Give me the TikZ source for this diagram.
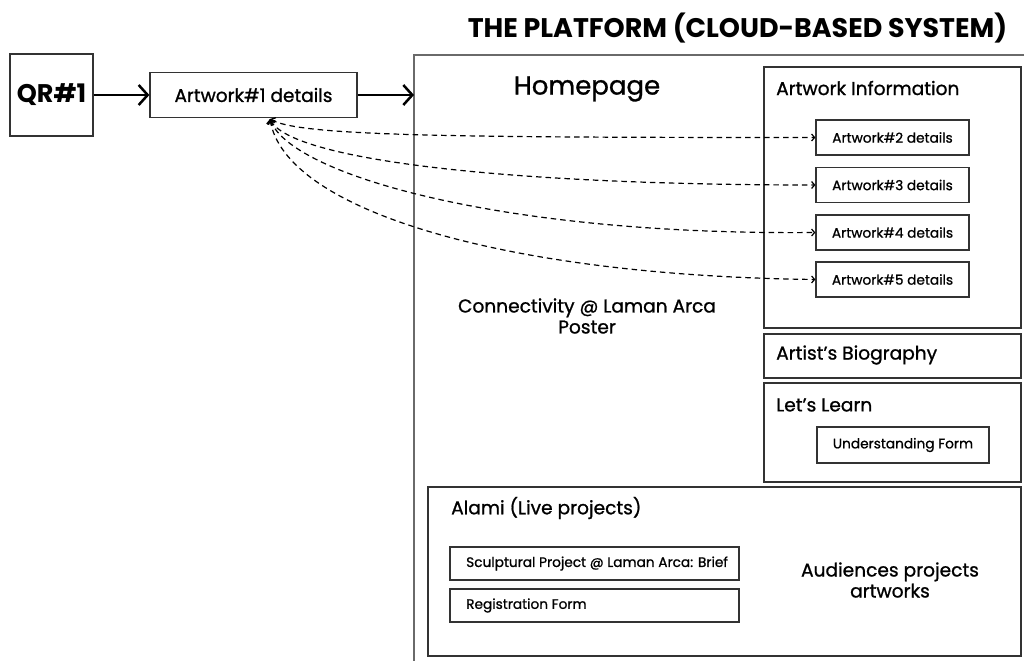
\documentclass[tikz,border=0pt]{standalone}
\usepackage{fontspec}
\setmainfont{Poppins}[FakeBold=1.0]
\newfontfamily\headfont{Poppins}
\usetikzlibrary{arrows.meta}
\definecolor{boxline}{HTML}{333333}
\definecolor{frameline}{HTML}{6A6A6A}
\begin{document}
\begin{tikzpicture}[x=1pt,y=-1pt,
  box/.style={draw=boxline,line width=1.3pt,inner sep=0pt},
  lbl/.style={inner sep=0pt,anchor=west},
  flow/.style={line width=2.5pt,-{Straight Barb[length=9pt,width=20pt,line width=2.5pt]}},
  link/.style={line width=1.2pt,dash pattern=on 5.5pt off 4pt,
    {Straight Barb[length=3.5pt,width=8pt,line width=1.4pt]}-{Straight Barb[length=3pt,width=7pt,line width=1.2pt]}},
  small/.style={font=\fontsize{13.7}{16}\selectfont},
  mid/.style={font=\fontsize{18.6}{21}\selectfont},
  big/.style={font=\fontsize{18.5}{22}\selectfont}]
\useasboundingbox (0,0) rectangle (1025,661);

% platform frame (open to the right and bottom)
\node[inner sep=0pt,font=\headfont\bfseries\fontsize{26.9}{30}\selectfont] (title) at (737.5,28) {THE PLATFORM (CLOUD-BASED SYSTEM)};
\coordinate (ftop) at (414,55);
\draw[frameline,line width=2pt] (1024,55) -- (ftop) -- (414,661);

% entry chain
\node[box,minimum width=83,minimum height=82,font=\headfont\bfseries\fontsize{25.5}{30}\selectfont] (qr) at (51.5,95) {QR\#1};
\node[box,minimum width=207,minimum height=45,big] (a1) at (253.5,95) {Artwork\#1 details};
\coordinate (hp) at (414,95);
\draw[flow] (qr.east) -- (a1.west);
\draw[flow] (a1.east) -- (hp);

\node[inner sep=0pt,font=\fontsize{26}{30}\selectfont] (home) at (587,89) {Homepage};
\node[inner sep=0pt,align=center,mid] (conn) at (587,316) {Connectivity @ Laman Arca\\Poster};

% artwork information
\node[box,minimum width=257,minimum height=261] (info) at (892.5,197.5) {};
\node[lbl,mid] (infot) at (776,88) {Artwork Information};
\node[box,minimum width=153,minimum height=35,small] (a2) at (892.5,137.5) {Artwork\#2 details};
\node[box,minimum width=153,minimum height=35,small] (a3) at (892.5,185) {Artwork\#3 details};
\node[box,minimum width=153,minimum height=35,small] (a4) at (892.5,232.5) {Artwork\#4 details};
\node[box,minimum width=153,minimum height=35,small] (a5) at (892.5,279.5) {Artwork\#5 details};

% biography and learning
\node[box,minimum width=257,minimum height=44] (bio) at (892.5,356) {};
\node[lbl,mid] (biot) at (776,355) {Artist's Biography};
\node[box,minimum width=257,minimum height=99] (learn) at (892.5,432.5) {};
\node[lbl,mid] (learnt) at (776,405) {Let's Learn};
\node[box,minimum width=172,minimum height=36,small] (uform) at (903,445) {Understanding Form};

% live projects
\node[box,minimum width=593,minimum height=169] (alami) at (724.5,571.5) {};
\node[lbl,mid] (alamit) at (451,508) {Alami (Live projects)};
\node[box,minimum width=289,minimum height=33] (brief) at (594.5,563.5) {};
\node[lbl,small] (brieft) at (466,563.5) {Sculptural Project @ Laman Arca: Brief};
\node[box,minimum width=289,minimum height=33] (reg) at (594.5,605.5) {};
\node[lbl,small] (regt) at (466,605.5) {Registration Form};
\node[inner sep=0pt,align=center,mid] (aud) at (890,580) {Audiences projects\\artworks};

% links back to the first artwork
\coordinate (hub) at (270,119);
\draw[link] (hub) .. controls +(30,17) and +(-366,0) .. (a2.west);
\draw[link] (hub) .. controls +(20,40) and +(-316,0) .. (a3.west);
\draw[link] (hub) .. controls +(20,55) and +(-316,3) .. (a4.west);
\draw[link] (hub) .. controls +(15,90) and +(-316,-4) .. (a5.west);
\end{tikzpicture}
\end{document}
